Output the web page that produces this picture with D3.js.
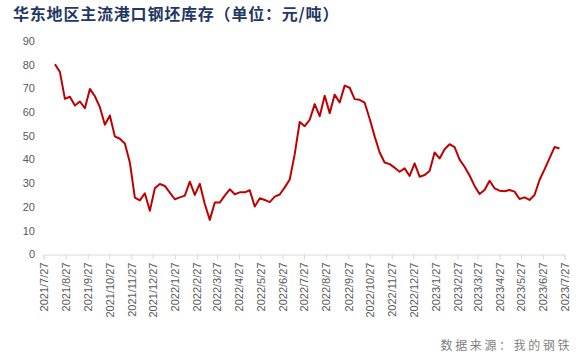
<!DOCTYPE html>
<html><head><meta charset="utf-8">
<script src="https://cdn.jsdelivr.net/npm/d3@7"></script>
<style>body{margin:0;background:#fff;}svg{display:block;}</style>
</head><body>
<script>
const title = "华东地区主流港口钢坯库存（单位：元/吨）";
const source = "数据来源：我的钢铁";
const dates = [
"2021-08-12","2021-08-19","2021-08-26","2021-09-02","2021-09-09","2021-09-16","2021-09-23","2021-09-30","2021-10-07","2021-10-14","2021-10-21","2021-10-28","2021-11-04","2021-11-11","2021-11-18","2021-11-25","2021-12-02","2021-12-09","2021-12-16","2021-12-23","2021-12-30",
"2022-01-06","2022-01-13","2022-01-20","2022-01-27","2022-02-03","2022-02-10","2022-02-17","2022-02-24","2022-03-03","2022-03-10","2022-03-17","2022-03-24","2022-03-31","2022-04-07","2022-04-14","2022-04-21","2022-04-28","2022-05-05","2022-05-12","2022-05-19","2022-05-26","2022-06-02","2022-06-09","2022-06-16","2022-06-23","2022-06-30","2022-07-07","2022-07-14","2022-07-21","2022-07-28","2022-08-04","2022-08-11","2022-08-18","2022-08-25","2022-09-01","2022-09-08","2022-09-15","2022-09-22","2022-09-29","2022-10-06","2022-10-13","2022-10-20","2022-10-27","2022-11-03","2022-11-10","2022-11-17","2022-11-24","2022-12-01","2022-12-08","2022-12-15","2022-12-22","2022-12-29",
"2023-01-05","2023-01-12","2023-01-19","2023-01-26","2023-02-02","2023-02-09","2023-02-16","2023-02-23","2023-03-02","2023-03-09","2023-03-16","2023-03-23","2023-03-30","2023-04-06","2023-04-13","2023-04-20","2023-04-27","2023-05-04","2023-05-11","2023-05-18","2023-05-25","2023-06-01","2023-06-08","2023-06-15","2023-06-22","2023-06-29","2023-07-06","2023-07-13","2023-07-20"
];
const values = [
80.2,77,65.6,66.5,62.8,64.5,61.7,69.8,66.7,62.1,54.7,58.6,49.8,48.8,46.8,38.8,24,22.8,25.8,18.4,27.9,
29.7,28.9,26.1,23.3,24.1,24.8,30.7,25.1,29.8,21.3,14.6,21.9,21.9,24.8,27.5,25.4,26.2,26.2,27.1,20.2,23.7,23,22.1,24.4,25.3,28.3,31.6,42.3,55.9,54.1,56.8,63.4,58.3,66.9,59.6,67.4,64.1,71.2,70.3,65.5,65.2,64,57.2,49.8,43,38.8,38.1,36.6,34.9,36.3,33.1,38.4,
32.8,33.5,35.2,43,40.5,44.4,46.5,45.3,40,37,33.3,28.9,25.5,27.2,31.1,27.9,26.9,26.7,27.2,26.5,23.4,24.1,23,25.1,31.4,35.9,40.5,45.3,44.7
];
const xTickLabels = ["2021/7/27","2021/8/27","2021/9/27","2021/10/27","2021/11/27","2021/12/27","2022/1/27","2022/2/27","2022/3/27","2022/4/27","2022/5/27","2022/6/27","2022/7/27","2022/8/27","2022/9/27","2022/10/27","2022/11/27","2022/12/27","2023/1/27","2023/2/27","2023/3/27","2023/4/27","2023/5/27","2023/6/27","2023/7/27"];
const yTicks = [0,10,20,30,40,50,60,70,80,90];

const W = 584, H = 357;
const svg = d3.select("body").append("svg").attr("width", W).attr("height", H);
const parse = d3.timeParse("%Y-%m-%d");
const parseTick = d3.timeParse("%Y/%m/%d");
const data = dates.map((d, i) => ({date: parse(d), value: values[i]}));
const tickDates = xTickLabels.map(t => parseTick(t));

const x = d3.scaleTime().domain([tickDates[0], tickDates[tickDates.length-1]]).range([43.5, 564.5]);
const y = d3.scaleLinear().domain([0, 90]).range([254.5, 41]);

svg.append("text").attr("x", 13).attr("y", 20)
  .attr("font-family", "'Noto Sans CJK SC', sans-serif").attr("font-weight", "bold")
  .attr("font-size", 16).attr("letter-spacing", 0.8).attr("fill", "#1f3864").text(title);

// y axis labels
svg.append("g").selectAll("text").data(yTicks).join("text")
  .attr("x", 35).attr("y", d => y(d)).attr("dy", "0.35em")
  .attr("text-anchor", "end").attr("font-family", "'Liberation Sans', Arial, sans-serif")
  .attr("font-size", 11).attr("fill", "#595959").text(d => d);

// x axis
const xAxis = d3.axisBottom(x).tickValues(tickDates).tickSize(5).tickFormat((d, i) => xTickLabels[i]);
const gx = svg.append("g").attr("transform", `translate(0,${y(0)})`).call(xAxis);
gx.select(".domain").attr("stroke", "#d9d9d9");
gx.selectAll(".tick line").attr("stroke", "#d9d9d9");
gx.selectAll(".tick text")
  .attr("font-family", "'Liberation Sans', Arial, sans-serif").attr("font-size", 11).attr("fill", "#595959")
  .attr("transform", "rotate(-90)").attr("text-anchor", "end")
  .attr("x", -8).attr("y", 0).attr("dy", "0.35em");

const line = d3.line().x(d => x(d.date)).y(d => y(d.value));
svg.append("path").datum(data).attr("d", line)
  .attr("fill", "none").attr("stroke", "#c00000").attr("stroke-width", 2).attr("stroke-linejoin", "round");

svg.append("text").attr("x", 572).attr("y", 350).attr("text-anchor", "end")
  .attr("font-family", "'Noto Sans CJK SC', sans-serif").attr("font-size", 12)
  .attr("letter-spacing", 2.6).attr("fill", "#7f7f7f").text(source);
</script>
</body></html>
